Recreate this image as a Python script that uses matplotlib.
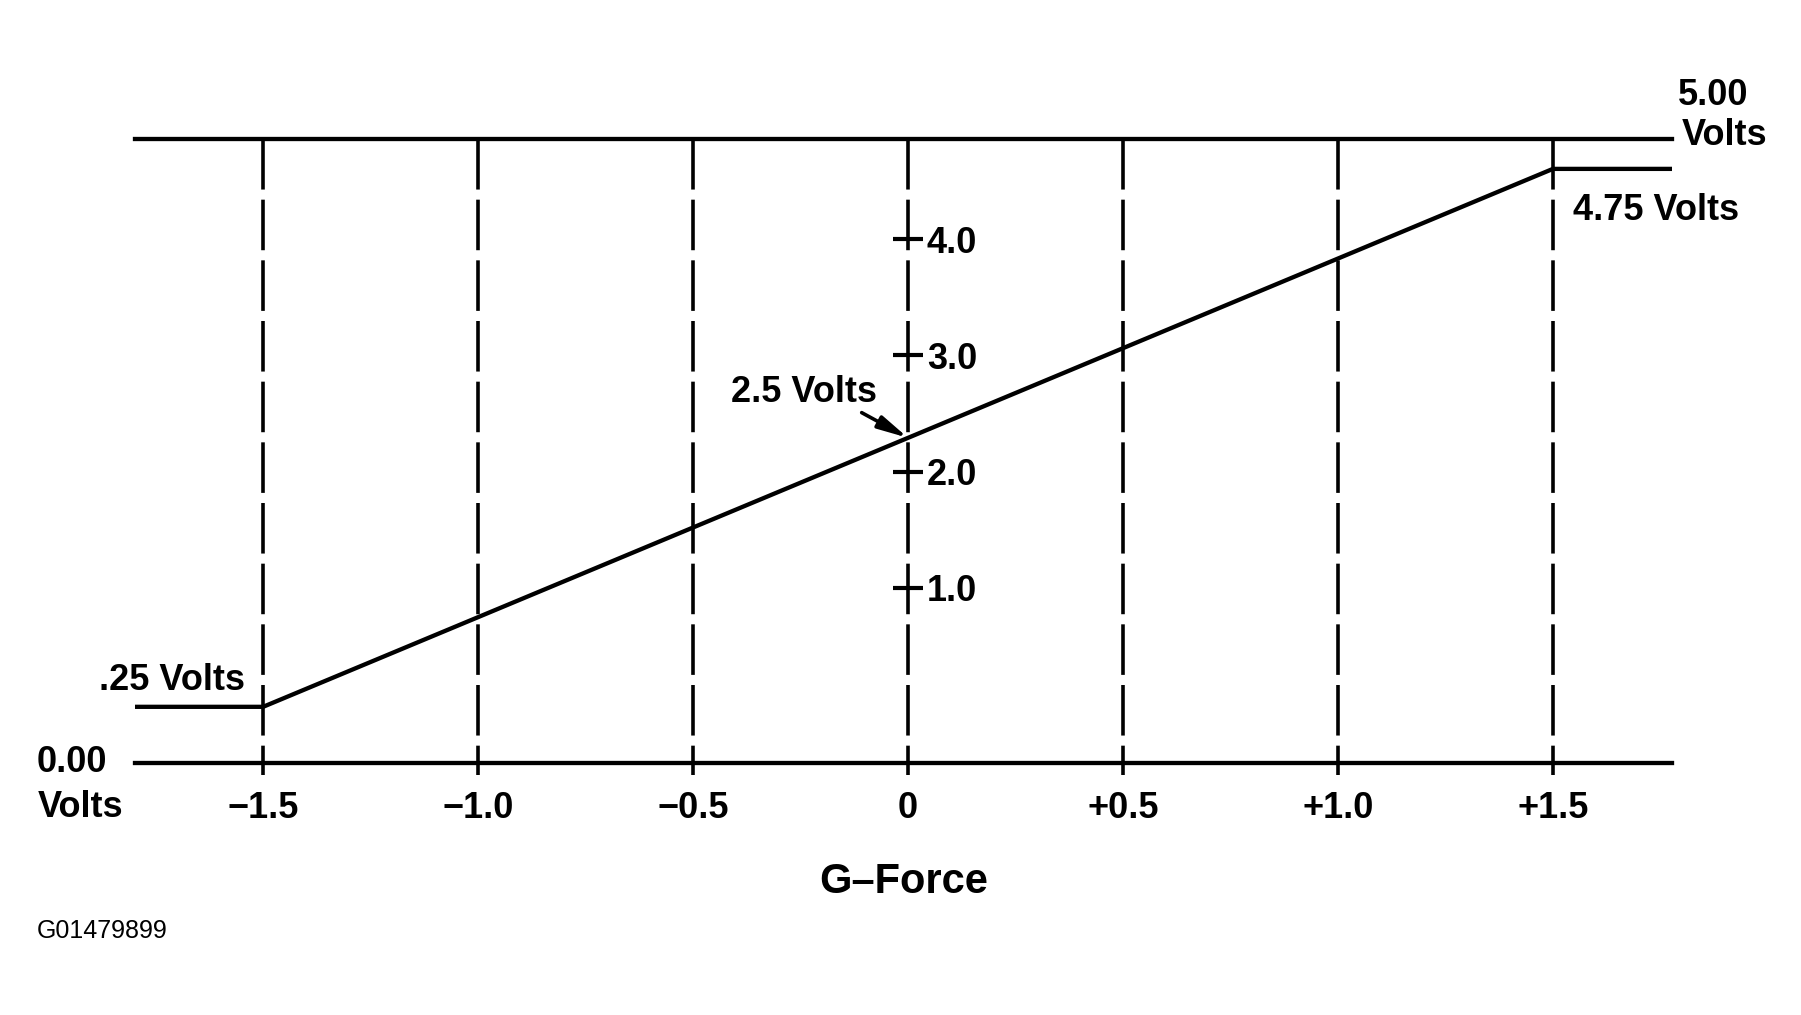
import matplotlib
matplotlib.use("Agg")
import matplotlib.pyplot as plt

plt.rcParams['font.family'] = ['Liberation Sans', 'DejaVu Sans']

# G-Force positions and their labels
g_ticks = [-1.5, -1.0, -0.5, 0.0, 0.5, 1.0, 1.5]
g_labels = ['\u22121.5', '\u22121.0', '\u22120.5', '0', '+0.5', '+1.0', '+1.5']

# sensor output: linear between the two clamp points
g_out = [-1.5, 1.5]
v_out = [0.25, 4.75]
v_mid = 2.5
v_top = 5.0

# scale printed on the centre line
v_ticks = [1.0, 2.0, 3.0, 4.0]
v_labels = ['1.0', '2.0', '3.0', '4.0']

x_left, x_right = -1.798, 1.777

fig = plt.figure(figsize=(18.01, 10.15), dpi=100)
ax = fig.add_axes([135 / 1801, 1 - 763 / 1015, (1672 - 135) / 1801, (763 - 139) / 1015])
ax.set_xlim(x_left, x_right)
ax.set_ylim(-0.22, v_top)

for s in ['left', 'right']:
    ax.spines[s].set_visible(False)
for s in ['top', 'bottom']:
    ax.spines[s].set_linewidth(3.1)

# dashed verticals, a bit past the bottom line
ax.vlines(g_ticks, v_top, -0.32, colors='black', linewidth=2.6,
          linestyles=(0, (14, 2.8)), clip_on=False)

# output line with flat ends
xs = [x_left] + g_out + [x_right]
ys = [v_out[0]] + v_out + [v_out[-1]]
ax.plot(xs, ys, color='black', linewidth=3.1, solid_capstyle='butt')

ax.set_xticks(g_ticks)
ax.set_xticklabels(g_labels, fontsize=26, fontweight='bold')
ax.tick_params(axis='x', length=0, pad=20)
ax.set_yticks([])
ax.set_xlabel('G\u2013Force', fontsize=30, fontweight='bold', labelpad=26)

# centre scale
ax2 = ax.twinx()
ax2.set_ylim(-0.505, 4.861)
for s in ['left', 'top', 'bottom']:
    ax2.spines[s].set_visible(False)
ax2.spines['right'].set_position(('data', 0))
ax2.spines['right'].set_visible(False)
ax2.set_yticks(v_ticks)
ax2.set_yticklabels(v_labels, fontsize=26, fontweight='bold')
ax2.tick_params(axis='y', direction='inout', length=21, width=3, pad=3)

kw = dict(textcoords='offset pixels', fontsize=26, fontweight='bold', va='baseline')
ax.annotate('.25 Volts', xy=(g_out[0], v_out[0]), xytext=(-18, 17), ha='right', **kw)
ax.annotate('4.75 Volts', xy=(g_out[1], v_out[1]), xytext=(20, -51), ha='left', **kw)
ax.annotate('2.5 Volts', xy=(0, v_mid), xytext=(-31, 36), ha='right',
            arrowprops=dict(arrowstyle='-|>,head_length=0.9,head_width=0.2',
                            color='black', lw=2.6, relpos=(0.86, 0.0),
                            shrinkA=0, shrinkB=0, mutation_scale=20), **kw)

ax.annotate('5.00', xy=(1, 1), xycoords='axes fraction', xytext=(6, 34), ha='left', **kw)
ax.annotate('Volts', xy=(1, 1), xycoords='axes fraction', xytext=(10, -6), ha='left', **kw)
ax.annotate('0.00', xy=(0, 0), xycoords='axes fraction', xytext=(-98, -9), ha='left', **kw)
ax.annotate('Volts', xy=(0, 0), xycoords='axes fraction', xytext=(-97, -54), ha='left', **kw)

fig.text(37 / 1801, 1 - 938 / 1015, 'G01479899', fontsize=18, va='baseline', ha='left')

fig.savefig('out.png', dpi=100, facecolor='white')
